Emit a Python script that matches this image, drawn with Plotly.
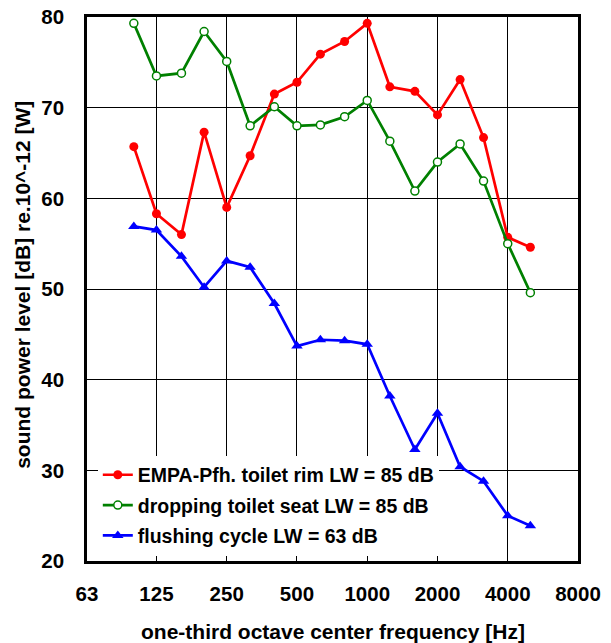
import plotly.graph_objects as go
import math

freqs = [100, 125, 160, 200, 250, 315, 400, 500, 630, 800, 1000, 1250, 1600, 2000, 2500, 3150, 4000, 5000]
rim = [65.7, 58.3, 56.0, 67.3, 59.0, 64.7, 71.5, 72.8, 75.9, 77.3, 79.3, 72.3, 71.8, 69.2, 73.1, 66.7, 55.7, 54.6]
seat = [79.3, 73.5, 73.8, 78.4, 75.1, 68.0, 70.1, 68.0, 68.1, 69.0, 70.8, 66.3, 60.8, 64.0, 66.0, 61.9, 55.0, 49.6]
flush = [56.9, 56.5, 53.6, 50.2, 53.1, 52.4, 48.4, 43.7, 44.4, 44.3, 43.9, 38.2, 32.3, 36.3, 30.4, 28.8, 25.0, 23.9]
names = ["EMPA-Pfh. toilet rim LW = 85 dB",
         "dropping toilet seat LW = 85 dB",
         "flushing cycle LW = 63 dB"]
xticks = [63, 125, 250, 500, 1000, 2000, 4000, 8000]
xticklabels = ["63", "125", "250", "500", "1000", "2000", "4000", "8000"]
yticks = [20, 30, 40, 50, 60, 70, 80]

FONT = "Arial, Liberation Sans, sans-serif"

fig = go.Figure()
fig.add_trace(go.Scatter(x=freqs, y=rim, name=names[0], mode="lines+markers", legendgroup="a",
                         line=dict(color="#ff0000", width=2.7),
                         marker=dict(symbol="circle", size=9, color="#ff0000")))
fig.add_trace(go.Scatter(x=freqs, y=seat, name=names[1], mode="lines+markers", legendgroup="b",
                         line=dict(color="#008000", width=2.7),
                         marker=dict(symbol="circle", size=8, color="white",
                                     line=dict(color="#008000", width=1.5))))
fig.add_trace(go.Scatter(x=freqs, y=flush, name=names[2], mode="lines+markers", legendgroup="c",
                         line=dict(color="#0000ff", width=2.7),
                         marker=dict(symbol="triangle-up", size=10, color="#0000ff")))

fig.update_layout(
    width=611, height=643,
    margin=dict(l=87, r=33, t=17, b=82, autoexpand=False),
    plot_bgcolor="white", paper_bgcolor="white",
    font=dict(family=FONT, size=20, color="black", weight="bold"),
    showlegend=True,
    legend=dict(x=0.022, y=0.01, xanchor="left", yanchor="bottom",
                bgcolor="white", borderwidth=0,
                font=dict(family=FONT, size=19.5, color="black", weight="bold"),
                tracegroupgap=2, itemwidth=30),
)
fig.update_xaxes(type="log", range=[math.log10(xticks[0]), math.log10(xticks[-1])],
                 tickvals=xticks, ticktext=xticklabels,
                 showgrid=True, gridcolor="black", gridwidth=1.3,
                 showline=True, linecolor="black", linewidth=2.5, mirror=True,
                 ticks="inside", ticklen=6, tickcolor="black",
                 ticklabelstandoff=13, automargin=False,
                 tickfont=dict(family=FONT, size=20.5, weight="bold"),
                 zeroline=False)
fig.update_yaxes(range=[20, 80], tickvals=yticks,
                 showgrid=True, gridcolor="black", gridwidth=1.3,
                 showline=True, linecolor="black", linewidth=2.5, mirror=True,
                 ticks="", ticklabelstandoff=16, automargin=False,
                 tickfont=dict(family=FONT, size=20.5, weight="bold"),
                 zeroline=False)

fig.add_annotation(text="one-third octave center frequency [Hz]", xref="paper", yref="paper",
                   x=0.5, y=-0.13, xanchor="center", yanchor="middle", showarrow=False,
                   font=dict(family=FONT, size=21, weight="bold"))
fig.add_annotation(text="sound power level [dB] re.10^-12 [W]", xref="paper", yref="paper",
                   x=-0.132, y=0.508, xanchor="center", yanchor="middle", showarrow=False,
                   textangle=-90, font=dict(family=FONT, size=21, weight="bold"))

fig.write_html("out.html", config={"displayModeBar": False},
               post_script="document.body.style.margin='0';document.body.style.overflow='hidden';")
